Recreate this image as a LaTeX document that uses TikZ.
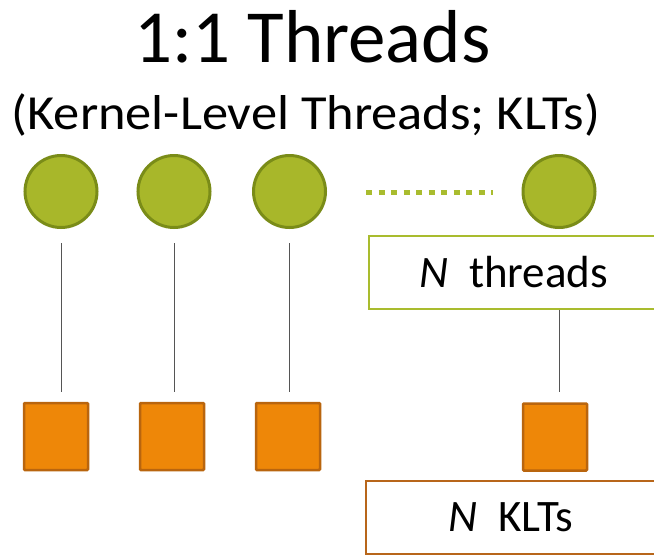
\documentclass[tikz,border=0pt]{standalone}
\usepackage{fontspec}
\setmainfont{Carlito}
\begin{document}
\begin{tikzpicture}[x=1pt,y=-1pt,
  thread/.style={circle,draw=threadedge,fill=threadfill,line width=3pt,minimum size=72pt,inner sep=0pt},
  klt/.style={rectangle,draw=kltedge,fill=kltfill,line width=2.5pt,minimum width=64pt,minimum height=67pt,inner sep=0pt,rounded corners=1pt},
  link/.style={draw=linkgray,line width=1pt},
  labelbox/.style={rectangle,line width=2pt,fill=white,minimum width=290pt,minimum height=73pt,inner sep=0pt,font=\fontsize{45}{54}\selectfont}
]
\definecolor{threadfill}{HTML}{A8B72A}
\definecolor{threadedge}{HTML}{7A8C18}
\definecolor{boxgreen}{HTML}{A9BC2E}
\definecolor{kltfill}{HTML}{EE8708}
\definecolor{kltedge}{HTML}{B9650E}
\definecolor{boxorange}{HTML}{B8661A}
\definecolor{linkgray}{HTML}{555555}

\useasboundingbox (0,0) rectangle (654,555);
\clip (0,0) rectangle (654,555);

% headings
\node[anchor=base,font=\fontsize{75}{90}\selectfont,inner sep=0pt] (title) at (312.5,62) {1:1 Threads};
\node[anchor=base,font=\fontsize{49}{60}\selectfont,inner sep=0pt,xscale=1.07] (subtitle) at (306,129) {(Kernel-Level Threads; KLTs)};

% user threads
\node[thread] (c1) at (61,191.5) {};
\node[thread] (c2) at (174,191.5) {};
\node[thread] (c3) at (289.5,191.5) {};
\node[thread] (c4) at (559,191.5) {};

% ellipsis between the third and the last thread
\coordinate (d1) at (366,192);
\coordinate (d2) at (493,192);
\draw[boxgreen,line width=5pt,dash pattern=on 6pt off 6.5pt] (d1) -- (d2);

% kernel-level threads
\node[klt] (s1) at (56,436.5) {};
\node[klt] (s2) at (172,436.5) {};
\node[klt] (s3) at (288,436.5) {};
\node[klt] (s4) at (555,437) {};

% label boxes
\node[labelbox,draw=boxgreen] (tb) at (514,272) {\textit{N}\ \ threads};
\node[labelbox,draw=boxorange] (kb) at (511,517) {\textit{N}\ \ KLTs};

% one-to-one links
\draw[link,shorten <=14pt,shorten >=10pt] (c1.south) -- (c1.south |- s1.north);
\draw[link,shorten <=14pt,shorten >=10pt] (c2.south) -- (c2.south |- s2.north);
\draw[link,shorten <=14pt,shorten >=10pt] (c3.south) -- (c3.south |- s3.north);
\draw[link,shorten >=10pt] (c4 |- tb.south) -- (c4 |- s4.north);
\end{tikzpicture}
\end{document}
